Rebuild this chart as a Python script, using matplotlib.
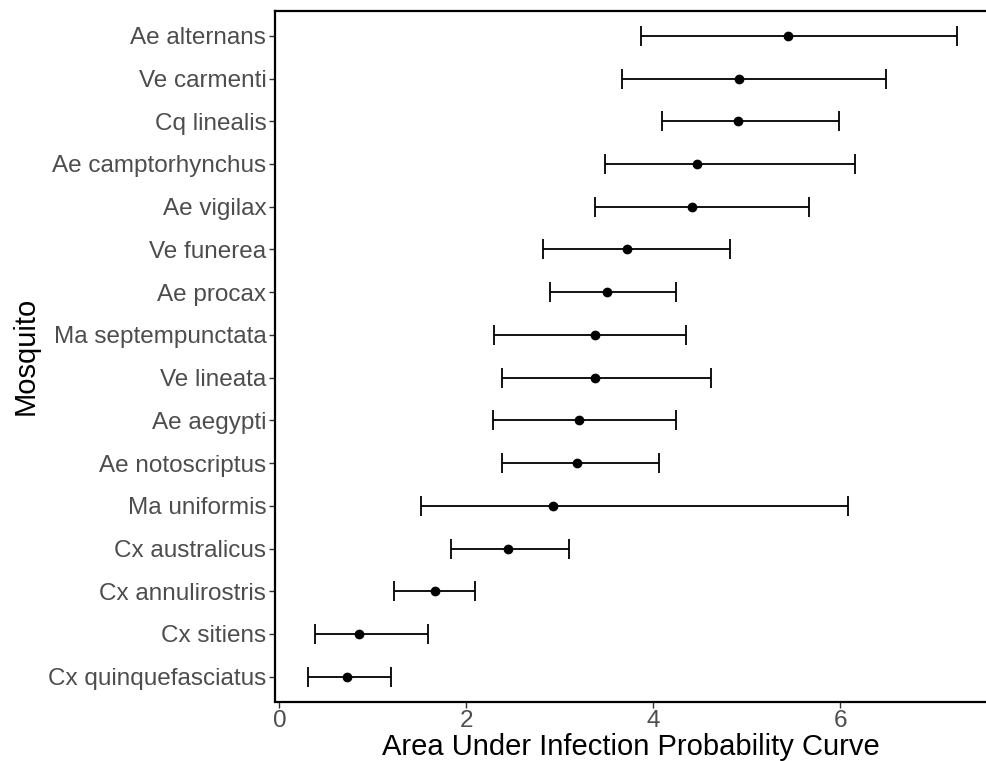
import matplotlib
matplotlib.use("Agg")
import matplotlib.pyplot as plt

mosquito = ["Ae alternans", "Ve carmenti", "Cq linealis", "Ae camptorhynchus",
            "Ae vigilax", "Ve funerea", "Ae procax", "Ma septempunctata",
            "Ve lineata", "Ae aegypti", "Ae notoscriptus", "Ma uniformis",
            "Cx australicus", "Cx annulirostris", "Cx sitiens", "Cx quinquefasciatus"]
auc = [5.44, 4.92, 4.90, 4.47, 4.41, 3.72, 3.50, 3.37,
       3.37, 3.20, 3.18, 2.93, 2.44, 1.66, 0.85, 0.72]
lower = [3.87, 3.66, 4.09, 3.48, 3.37, 2.82, 2.89, 2.29,
         2.38, 2.28, 2.38, 1.51, 1.83, 1.22, 0.38, 0.30]
upper = [7.25, 6.49, 5.98, 6.15, 5.66, 4.82, 4.24, 4.35,
         4.62, 4.24, 4.06, 6.08, 3.10, 2.09, 1.59, 1.19]
xticks = [0, 2, 4, 6]

plt.rcParams['font.family'] = ['Liberation Sans', 'DejaVu Sans']

fig = plt.figure(figsize=(9.87, 7.61), dpi=100)
ax = fig.add_axes([274.6/987, 1 - 701.5/761, 1 - 274.6/987, (701.5 - 11)/761])

n = len(mosquito)
ypos = [n - 1 - i for i in range(n)]
xerr = [[a - l for a, l in zip(auc, lower)], [u - a for a, u in zip(auc, upper)]]
ax.errorbar(auc, ypos, xerr=xerr, fmt='o', color='black', ms=6,
            elinewidth=1.3, capsize=7.5, capthick=1.3)

ax.set_ylim(-0.58, n - 1 + 0.58)
ax.set_xlim(-0.052, 7.567)
ax.set_yticks(ypos)
ax.set_yticklabels(mosquito)
ax.set_xticks(xticks)
ax.set_xticklabels([str(t) for t in xticks])
ax.tick_params(axis='both', labelsize=17.5, labelcolor='#4D4D4D', color='#333333',
               length=4, width=1)
ax.tick_params(axis='y', pad=2)
ax.tick_params(axis='x', pad=2)
for s in ['left', 'bottom', 'top']:
    ax.spines[s].set_linewidth(1.6)
    ax.spines[s].set_color('black')
ax.spines['right'].set_visible(False)
ax.set_xlabel("Area Under Infection Probability Curve", fontsize=21, labelpad=1)
ax.set_ylabel("Mosquito", fontsize=21, labelpad=6)

fig.savefig("out.png", dpi=100)
